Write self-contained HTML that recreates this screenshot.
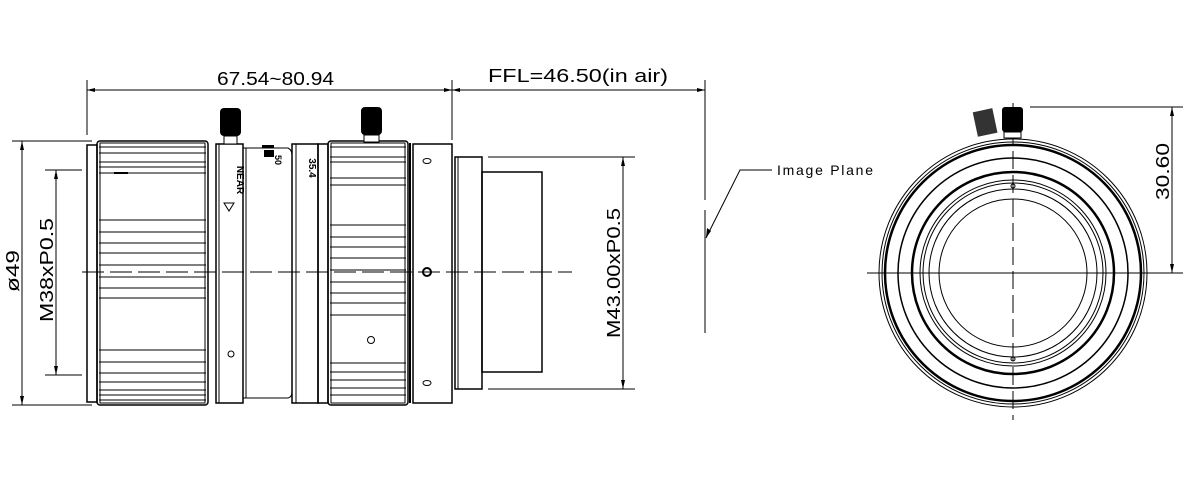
<!DOCTYPE html>
<html><head><meta charset="utf-8"><style>
html,body{margin:0;padding:0;background:#fff;}
svg{display:block;}
text{font-family:"Liberation Sans",sans-serif;fill:#000;}
</style></head><body>
<svg width="1192" height="480" viewBox="0 0 1192 480" xmlns="http://www.w3.org/2000/svg">
<g stroke="#000" stroke-width="1" fill="none">
<line x1="87" y1="80" x2="87" y2="135"/>
<line x1="87" y1="90" x2="452" y2="90"/>
<line x1="452" y1="80" x2="452" y2="140"/>
<line x1="452" y1="90" x2="705" y2="90"/>
<line x1="705" y1="80" x2="705" y2="200"/>
<line x1="705" y1="210" x2="705" y2="333"/>
<polyline points="706,238 740,170 772,170"/>
<line x1="12" y1="141" x2="92" y2="141"/>
<line x1="12" y1="405" x2="92" y2="405"/>
<line x1="22" y1="141" x2="22" y2="405"/>
<line x1="45" y1="170" x2="82" y2="170"/>
<line x1="45" y1="375" x2="82" y2="375"/>
<line x1="56" y1="170" x2="56" y2="375"/>
<line x1="488" y1="157" x2="635" y2="157"/>
<line x1="488" y1="389" x2="635" y2="389"/>
<line x1="623" y1="157" x2="623" y2="389"/>
<line x1="82" y1="272" x2="572" y2="272" stroke-dasharray="22,6"/>
<rect x="87" y="145" width="10" height="257" stroke-width="1.5"/>
<rect x="97" y="141" width="111" height="264" rx="3" stroke-width="1.5"/>
<rect x="100" y="143" width="105" height="260"/>
<g>
<line x1="99" y1="147" x2="206" y2="147"/><line x1="99" y1="153" x2="206" y2="153"/><line x1="99" y1="162" x2="206" y2="162"/><line x1="99" y1="167" x2="206" y2="167"/><line x1="99" y1="173" x2="206" y2="173"/>
<line x1="99" y1="220" x2="206" y2="220"/><line x1="99" y1="232" x2="206" y2="232"/><line x1="99" y1="243" x2="206" y2="243"/><line x1="99" y1="253" x2="206" y2="253"/><line x1="99" y1="265" x2="206" y2="265"/><line x1="99" y1="277" x2="206" y2="277"/><line x1="99" y1="288" x2="206" y2="288"/><line x1="99" y1="298" x2="206" y2="298"/>
<line x1="99" y1="350" x2="206" y2="350"/><line x1="99" y1="362" x2="206" y2="362"/><line x1="99" y1="373" x2="206" y2="373"/><line x1="99" y1="382" x2="206" y2="382"/><line x1="99" y1="390" x2="206" y2="390"/><line x1="99" y1="395" x2="206" y2="395"/><line x1="99" y1="400" x2="206" y2="400"/>
</g>
<line x1="114" y1="173" x2="128" y2="173" stroke-width="2"/>
<rect x="216" y="144" width="27" height="259" stroke-width="1.5"/>
<line x1="219" y1="144" x2="219" y2="403"/>
<polygon points="224,203 234,203 229,211"/>
<circle cx="231" cy="354" r="3"/>
<path d="M243,148 L288,148 Q292,150 292,155 L292,392 Q292,397 288,398 L243,398"/>
<path d="M246,148 L246,398"/>
<rect x="292" y="144" width="26" height="259" stroke-width="1.5"/>
<line x1="296" y1="144" x2="296" y2="403"/>
<rect x="318" y="144" width="10" height="259" stroke-width="1.5"/>
<rect x="328" y="141" width="80" height="264" rx="3" stroke-width="1.5"/>
<rect x="331" y="143" width="74" height="260"/>
<g>
<line x1="330" y1="147" x2="406" y2="147"/><line x1="330" y1="157" x2="406" y2="157"/><line x1="330" y1="162" x2="406" y2="162"/><line x1="330" y1="178" x2="406" y2="178"/><line x1="330" y1="185" x2="406" y2="185"/>
<line x1="330" y1="225" x2="406" y2="225"/><line x1="330" y1="237" x2="406" y2="237"/><line x1="330" y1="247" x2="406" y2="247"/><line x1="330" y1="258" x2="406" y2="258"/><line x1="330" y1="270" x2="406" y2="270"/><line x1="330" y1="282" x2="406" y2="282"/><line x1="330" y1="293" x2="406" y2="293"/><line x1="330" y1="303" x2="406" y2="303"/><line x1="330" y1="315" x2="406" y2="315"/>
<line x1="330" y1="363" x2="406" y2="363"/><line x1="330" y1="372" x2="406" y2="372"/><line x1="330" y1="380" x2="406" y2="380"/><line x1="330" y1="388" x2="406" y2="388"/><line x1="330" y1="395" x2="406" y2="395"/>
</g>
<circle cx="371" cy="340" r="3.5"/>
<line x1="410" y1="143" x2="410" y2="403" stroke-width="2"/>
<rect x="413" y="144" width="39" height="259" stroke-width="1.5"/>
<ellipse cx="427" cy="161" rx="4" ry="2.5"/>
<circle cx="427" cy="272" r="4" stroke-width="2"/>
<ellipse cx="427" cy="383" rx="4" ry="2.5"/>
<rect x="455" y="157" width="27" height="232" stroke-width="1.5"/>
<line x1="458" y1="157" x2="458" y2="389"/>
<rect x="482" y="172" width="60" height="200" stroke-width="1.5"/>
<line x1="867" y1="273" x2="1183" y2="273"/>
<line x1="1013" y1="103" x2="1013" y2="420" stroke-dasharray="18,6"/>
<line x1="1030" y1="107" x2="1183" y2="107"/>
<line x1="1172" y1="107" x2="1172" y2="273"/>
<circle cx="1013" cy="273" r="134"/>
<circle cx="1013" cy="273" r="131"/>
<circle cx="1013" cy="273" r="128" stroke-width="2.5"/>
<circle cx="1013" cy="273" r="115" stroke-width="1.5"/>
<circle cx="1013" cy="273" r="101" stroke-width="2.5"/>
<circle cx="1013" cy="273" r="93"/>
<circle cx="1013" cy="273" r="90"/>
<circle cx="1013" cy="273" r="84"/>
<circle cx="1013" cy="273" r="74"/>
<circle cx="1013" cy="186" r="2"/>
<circle cx="1013" cy="359" r="2"/>
</g>
<rect x="220" y="108" width="21" height="28" rx="4" fill="#000"/>
<rect x="224" y="136" width="13" height="8" fill="#fff" stroke="#000"/>
<rect x="361" y="107" width="21" height="28" rx="4" fill="#000"/>
<rect x="364" y="135" width="15" height="7" fill="#fff" stroke="#000"/>
<rect x="1002" y="107" width="21" height="25" rx="3" fill="#000"/>
<rect x="1004" y="132" width="17" height="6" fill="#fff" stroke="#000"/>
<rect x="975" y="110" width="20" height="25" fill="#333" transform="rotate(-12 985 122)"/>
<rect x="262" y="145" width="12" height="3" fill="#000"/>
<rect x="264" y="150" width="10" height="7" fill="#000"/>
<g fill="#000">
<polygon points="87,90 95,88 95,92"/><polygon points="452,90 444,88 444,92"/>
<polygon points="452,90 460,88 460,92"/><polygon points="705,90 697,88 697,92"/>
<polygon points="22,141 20,150 24,150"/><polygon points="22,405 20,396 24,396"/>
<polygon points="56,170 54,179 58,179"/><polygon points="56,375 54,366 58,366"/>
<polygon points="623,157 621,166 625,166"/><polygon points="623,389 621,380 625,380"/>
<polygon points="1172,107 1170,116 1174,116"/><polygon points="1172,273 1170,264 1174,264"/>
<polygon points="706,238 707,228 711,231"/>
</g>
<text x="217" y="85" font-size="18" textLength="117" lengthAdjust="spacingAndGlyphs">67.54~80.94</text>
<text x="488" y="82" font-size="18" textLength="180" lengthAdjust="spacingAndGlyphs">FFL=46.50(in air)</text>
<text x="777" y="175" font-size="14" textLength="96">Image Plane</text>
<text transform="translate(19,292) rotate(-90)" font-size="18" textLength="42" lengthAdjust="spacingAndGlyphs">ø49</text>
<text transform="translate(53,322) rotate(-90)" font-size="18" textLength="104" lengthAdjust="spacingAndGlyphs">M38xP0.5</text>
<text transform="translate(620,338) rotate(-90)" font-size="18" textLength="130" lengthAdjust="spacingAndGlyphs">M43.00xP0.5</text>
<text transform="translate(1169,200) rotate(-90)" font-size="18" textLength="57" lengthAdjust="spacingAndGlyphs">30.60</text>
<text transform="translate(237,180) rotate(90)" font-size="10" font-weight="bold" text-anchor="middle">NEAR</text>
<text transform="translate(275,160) rotate(90)" font-size="9" font-weight="bold" text-anchor="middle">50</text>
<text transform="translate(309,168) rotate(90)" font-size="10" font-weight="bold" text-anchor="middle">35.4</text>
</svg>
</body></html>
